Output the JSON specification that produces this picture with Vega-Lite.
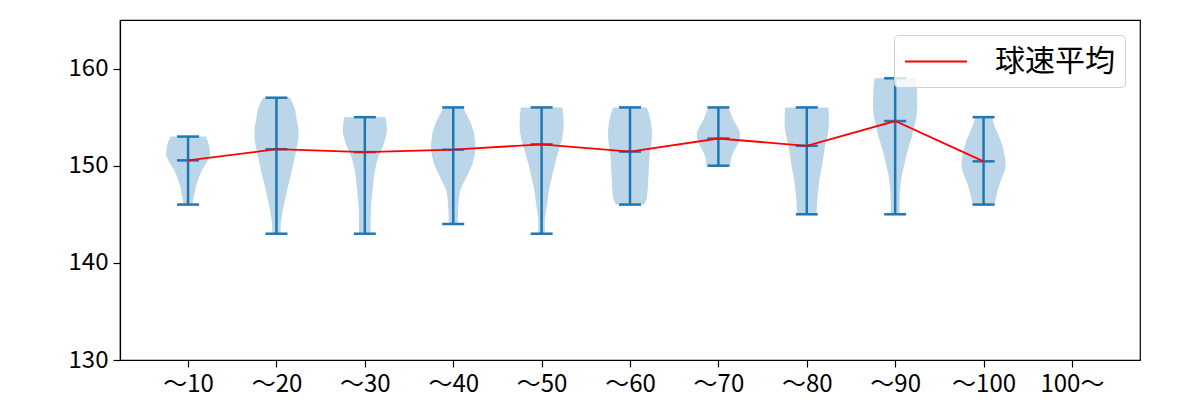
{
  "$schema": "https://vega.github.io/schema/vega-lite/v6.json",
  "width": 1020,
  "height": 340,
  "autosize": {"type": "none"},
  "padding": {"left": 120, "top": 20, "right": 60, "bottom": 40},
  "background": "white",
  "config": {
    "view": {"stroke": "black", "strokeWidth": 1.2},
    "axis": {"grid": false, "domainColor": "black", "tickColor": "black", "labelColor": "black", "labelFont": "Noto Sans CJK JP", "labelFontSize": 24, "tickSize": 7, "domainWidth": 1.2, "tickWidth": 1.2, "labelPadding": 5}
  },
  "datasets": {
    "violin": [
      {"g":1,"y":146.0,"w":0.05},{"g":1,"y":146.8,"w":0.065},{"g":1,"y":147.5,"w":0.08},{"g":1,"y":148.2,"w":0.1},{"g":1,"y":149.0,"w":0.13},{"g":1,"y":149.6,"w":0.16},{"g":1,"y":150.3,"w":0.21},{"g":1,"y":151.1,"w":0.25},{"g":1,"y":152.0,"w":0.24},{"g":1,"y":152.6,"w":0.22},{"g":1,"y":153.0,"w":0.2},
      {"g":2,"y":143.0,"w":0.045},{"g":2,"y":144.1,"w":0.05},{"g":2,"y":145.0,"w":0.065},{"g":2,"y":145.8,"w":0.08},{"g":2,"y":146.6,"w":0.1},{"g":2,"y":147.5,"w":0.12},{"g":2,"y":148.4,"w":0.145},{"g":2,"y":149.3,"w":0.17},{"g":2,"y":150.2,"w":0.19},{"g":2,"y":151.0,"w":0.21},{"g":2,"y":152.0,"w":0.235},{"g":2,"y":153.0,"w":0.25},{"g":2,"y":154.0,"w":0.245},{"g":2,"y":154.7,"w":0.23},{"g":2,"y":155.8,"w":0.21},{"g":2,"y":156.5,"w":0.18},{"g":2,"y":157.0,"w":0.15},
      {"g":3,"y":143.0,"w":0.065},{"g":3,"y":144.0,"w":0.066},{"g":3,"y":145.0,"w":0.068},{"g":3,"y":145.8,"w":0.07},{"g":3,"y":146.7,"w":0.078},{"g":3,"y":147.5,"w":0.087},{"g":3,"y":148.4,"w":0.097},{"g":3,"y":149.3,"w":0.11},{"g":3,"y":150.2,"w":0.13},{"g":3,"y":151.0,"w":0.155},{"g":3,"y":151.7,"w":0.19},{"g":3,"y":152.4,"w":0.22},{"g":3,"y":153.0,"w":0.24},{"g":3,"y":153.5,"w":0.25},{"g":3,"y":154.3,"w":0.245},{"g":3,"y":155.0,"w":0.235},
      {"g":4,"y":144.0,"w":0.05},{"g":4,"y":144.8,"w":0.052},{"g":4,"y":145.8,"w":0.057},{"g":4,"y":146.7,"w":0.065},{"g":4,"y":147.5,"w":0.08},{"g":4,"y":148.3,"w":0.12},{"g":4,"y":149.2,"w":0.17},{"g":4,"y":150.1,"w":0.215},{"g":4,"y":151.0,"w":0.24},{"g":4,"y":151.7,"w":0.25},{"g":4,"y":152.3,"w":0.25},{"g":4,"y":153.4,"w":0.235},{"g":4,"y":154.4,"w":0.2},{"g":4,"y":155.3,"w":0.15},{"g":4,"y":156.0,"w":0.11},
      {"g":5,"y":143.0,"w":0.04},{"g":5,"y":143.8,"w":0.035},{"g":5,"y":144.6,"w":0.038},{"g":5,"y":145.4,"w":0.05},{"g":5,"y":146.2,"w":0.065},{"g":5,"y":147.0,"w":0.075},{"g":5,"y":147.8,"w":0.09},{"g":5,"y":148.6,"w":0.11},{"g":5,"y":149.4,"w":0.13},{"g":5,"y":150.2,"w":0.15},{"g":5,"y":151.0,"w":0.175},{"g":5,"y":151.8,"w":0.2},{"g":5,"y":152.7,"w":0.23},{"g":5,"y":153.5,"w":0.245},{"g":5,"y":154.4,"w":0.25},{"g":5,"y":155.2,"w":0.245},{"g":5,"y":156.0,"w":0.235},
      {"g":6,"y":146.0,"w":0.16},{"g":6,"y":146.6,"w":0.19},{"g":6,"y":147.5,"w":0.2},{"g":6,"y":148.4,"w":0.205},{"g":6,"y":149.2,"w":0.21},{"g":6,"y":150.1,"w":0.215},{"g":6,"y":151.0,"w":0.22},{"g":6,"y":151.8,"w":0.235},{"g":6,"y":152.6,"w":0.245},{"g":6,"y":153.4,"w":0.25},{"g":6,"y":154.3,"w":0.24},{"g":6,"y":155.2,"w":0.22},{"g":6,"y":156.0,"w":0.19},
      {"g":7,"y":150.0,"w":0.13},{"g":7,"y":150.5,"w":0.14},{"g":7,"y":151.0,"w":0.15},{"g":7,"y":151.6,"w":0.18},{"g":7,"y":152.3,"w":0.225},{"g":7,"y":153.0,"w":0.245},{"g":7,"y":153.5,"w":0.24},{"g":7,"y":154.1,"w":0.21},{"g":7,"y":154.7,"w":0.17},{"g":7,"y":155.4,"w":0.14},{"g":7,"y":156.0,"w":0.11},
      {"g":8,"y":145.0,"w":0.11},{"g":8,"y":145.8,"w":0.115},{"g":8,"y":146.7,"w":0.12},{"g":8,"y":147.5,"w":0.13},{"g":8,"y":148.4,"w":0.14},{"g":8,"y":149.2,"w":0.155},{"g":8,"y":150.1,"w":0.175},{"g":8,"y":151.1,"w":0.19},{"g":8,"y":152.2,"w":0.21},{"g":8,"y":153.1,"w":0.235},{"g":8,"y":154.0,"w":0.25},{"g":8,"y":155.0,"w":0.25},{"g":8,"y":156.0,"w":0.245},
      {"g":9,"y":145.0,"w":0.05},{"g":9,"y":146.0,"w":0.05},{"g":9,"y":147.0,"w":0.052},{"g":9,"y":148.0,"w":0.06},{"g":9,"y":149.0,"w":0.075},{"g":9,"y":150.0,"w":0.1},{"g":9,"y":151.0,"w":0.125},{"g":9,"y":152.0,"w":0.155},{"g":9,"y":153.0,"w":0.19},{"g":9,"y":154.0,"w":0.215},{"g":9,"y":155.0,"w":0.24},{"g":9,"y":156.0,"w":0.25},{"g":9,"y":157.0,"w":0.25},{"g":9,"y":158.0,"w":0.245},{"g":9,"y":159.0,"w":0.235},
      {"g":10,"y":146.0,"w":0.125},{"g":10,"y":146.7,"w":0.14},{"g":10,"y":147.5,"w":0.16},{"g":10,"y":148.2,"w":0.185},{"g":10,"y":149.0,"w":0.22},{"g":10,"y":149.7,"w":0.245},{"g":10,"y":150.3,"w":0.25},{"g":10,"y":151.0,"w":0.24},{"g":10,"y":151.8,"w":0.22},{"g":10,"y":152.7,"w":0.19},{"g":10,"y":153.5,"w":0.15},{"g":10,"y":154.2,"w":0.12},{"g":10,"y":155.0,"w":0.095}
    ],
    "stats": [
      {"pos":1,"lo":146,"hi":153,"mean":150.55},
      {"pos":2,"lo":143,"hi":157,"mean":151.7},
      {"pos":3,"lo":143,"hi":155,"mean":151.4},
      {"pos":4,"lo":144,"hi":156,"mean":151.65},
      {"pos":5,"lo":143,"hi":156,"mean":152.2},
      {"pos":6,"lo":146,"hi":156,"mean":151.45},
      {"pos":7,"lo":150,"hi":156,"mean":152.8},
      {"pos":8,"lo":145,"hi":156,"mean":152.05},
      {"pos":9,"lo":145,"hi":159,"mean":154.6},
      {"pos":10,"lo":146,"hi":155,"mean":150.45}
    ]
  },
  "layer": [
    {
      "data": {"name": "violin"},
      "transform": [
        {"calculate": "datum.g - datum.w", "as": "xl"},
        {"calculate": "datum.g + datum.w", "as": "xr"}
      ],
      "mark": {"type": "area", "orient": "horizontal", "fill": "#1f77b4", "fillOpacity": 0.3, "stroke": null},
      "encoding": {
        "y": {"field": "y", "type": "quantitative", "scale": {"domain": [130, 165], "nice": false, "zero": false}, "axis": {"values": [130, 140, 150, 160], "title": null}},
        "x": {"field": "xl", "type": "quantitative", "scale": {"domain": [0.23, 11.77], "nice": false, "zero": false}, "axis": {"values": [1,2,3,4,5,6,7,8,9,10,11], "title": null, "labelExpr": "datum.value == 11 ? '100〜' : '〜' + (datum.value * 10)"}},
        "x2": {"field": "xr"},
        "detail": {"field": "g"}
      }
    },
    {
      "data": {"name": "stats"},
      "mark": {"type": "rule", "color": "#1f77b4", "strokeWidth": 2.5},
      "encoding": {
        "x": {"field": "pos", "type": "quantitative"},
        "y": {"field": "lo", "type": "quantitative"},
        "y2": {"field": "hi"}
      }
    },
    {
      "data": {"name": "stats"},
      "transform": [{"fold": ["lo", "hi", "mean"], "as": ["stat", "value"]}],
      "mark": {"type": "tick", "orient": "horizontal", "color": "#1f77b4", "size": 22, "thickness": 2.5, "opacity": 1},
      "encoding": {
        "x": {"field": "pos", "type": "quantitative"},
        "y": {"field": "value", "type": "quantitative"}
      }
    },
    {
      "data": {"name": "stats"},
      "mark": {"type": "line", "strokeWidth": 1.8},
      "encoding": {
        "x": {"field": "pos", "type": "quantitative"},
        "y": {"field": "mean", "type": "quantitative"},
        "color": {
          "datum": "球速平均",
          "scale": {"range": ["red"]},
          "legend": {
            "title": null,
            "orient": "top-right",
            "offset": 15,
            "symbolType": "M-1,0H3",
            "symbolSize": 961,
            "symbolStrokeWidth": 1.8,
            "symbolStrokeColor": "red",
            "labelFont": "Noto Sans CJK JP",
            "labelFontSize": 30,
            "labelColor": "black",
            "labelOffset": 58,
            "padding": 10,
            "fillColor": "rgba(255,255,255,0.8)",
            "strokeColor": "#d0d0d0",
            "cornerRadius": 4
          }
        }
      }
    }
  ]
}
